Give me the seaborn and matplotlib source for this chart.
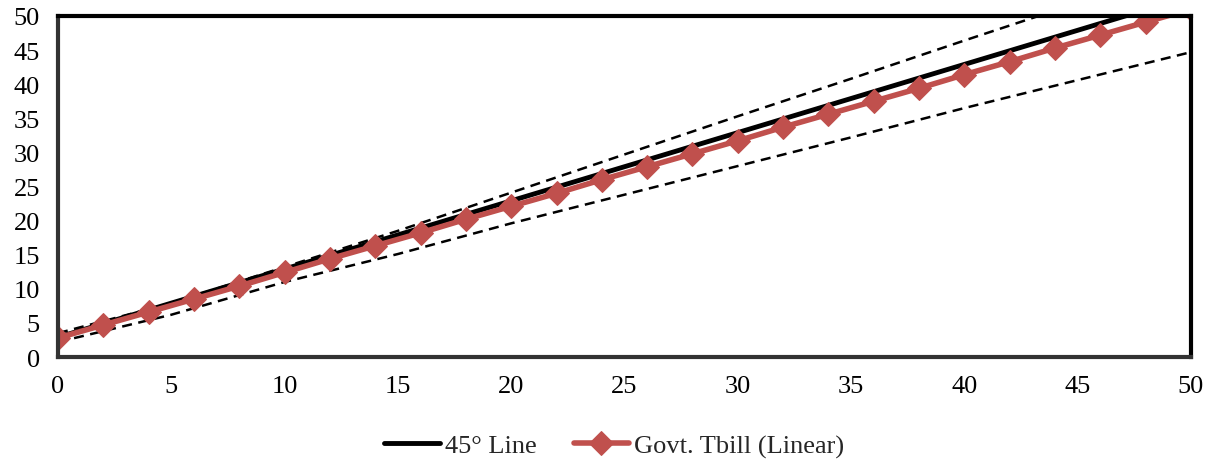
import pandas as pd
import numpy as np
import seaborn as sns
import matplotlib.pyplot as plt

# Values
tbill_x = [0, 2, 4, 6, 8, 10, 12, 14, 16, 18, 20, 22, 24, 26, 28, 30, 32, 34, 36, 38, 40, 42, 44, 46, 48, 50]
tbill_y = [2.8, 4.7, 6.6, 8.5, 10.4, 12.4, 14.4, 16.3, 18.2, 20.2, 22.1, 24.0, 26.0, 27.9,
           29.8, 31.7, 33.7, 35.6, 37.5, 39.4, 41.4, 43.3, 45.3, 47.2, 49.1, 51.0]

line45_x = [0, 50]
line45_y = [2.9, 52.9]

# dashed band around the 45° line
band_x = [0, 5, 10, 15, 20, 25, 30, 35, 40, 45, 50]
upper_y = [3.5, 7.9, 13.2, 18.5, 24.1, 29.7, 35.3, 40.8, 46.4, 51.9, 57.4]
lower_y = [2.2, 6.2, 11.0, 15.1, 19.6, 23.8, 28.0, 32.2, 36.5, 40.6, 44.7]

ticks = [0, 5, 10, 15, 20, 25, 30, 35, 40, 45, 50]

df_tbill = pd.DataFrame({"x": tbill_x, "y": tbill_y})
df_45 = pd.DataFrame({"x": line45_x, "y": line45_y})
df_up = pd.DataFrame({"x": band_x, "y": upper_y})
df_lo = pd.DataFrame({"x": band_x, "y": lower_y})

sns.set_style("white")
plt.rcParams['font.family'] = ['Liberation Serif', 'DejaVu Serif']

fig = plt.figure(figsize=(12.14, 4.64), dpi=100)
ax = fig.add_axes([0.0478, 0.2284, 0.9332, 0.735])

red = "#C0504D"
for d in (df_up, df_lo):
    sns.lineplot(data=d, x="x", y="y", ax=ax, color="black", linewidth=1.8,
                 legend=False, zorder=2)
    ax.lines[-1].set_dashes((4, 2.6))
sns.lineplot(data=df_45, x="x", y="y", ax=ax, color="black", linewidth=3.5,
             label="45° Line", zorder=3)
sns.lineplot(data=df_tbill, x="x", y="y", ax=ax, color=red, linewidth=4,
             marker="D", markersize=12, markeredgecolor=red,
             label="Govt. Tbill (Linear)", zorder=4)

ax.set_xlim(0, 50)
ax.set_ylim(0, 50)
ax.set_xticks(ticks)
ax.set_yticks(ticks)
ax.set_xlabel("")
ax.set_ylabel("")
ax.tick_params(axis="both", length=0, labelsize=19, colors="black")
ax.tick_params(axis="x", pad=13)
ax.tick_params(axis="y", pad=13)

for side in ["top", "right"]:
    ax.spines[side].set_color("black")
    ax.spines[side].set_linewidth(3)
for side in ["left", "bottom"]:
    ax.spines[side].set_color("#333333")
    ax.spines[side].set_linewidth(3)
for s in ax.spines.values():
    s.set_zorder(10)

handles, labels = ax.get_legend_handles_labels()
ax.get_legend().remove()
fig.legend(handles, labels, loc="center", bbox_to_anchor=(0.506, 0.037), ncol=2,
           frameon=False, fontsize=19, handlelength=2.1, handletextpad=0.2,
           columnspacing=1.4)

plt.savefig("out.png", dpi=100)
plt.close()
